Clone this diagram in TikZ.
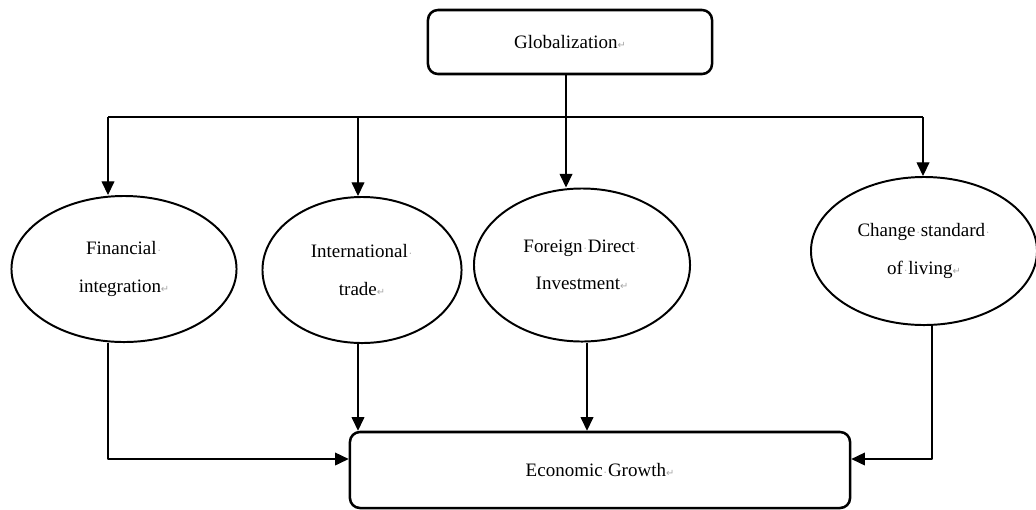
\documentclass[tikz,border=0pt]{standalone}
\usepackage{fontspec}
\setmainfont{Liberation Serif}
\newfontfamily\markfont{DejaVu Sans}
\usetikzlibrary{shapes.geometric,arrows.meta}
\newcommand\dotmark{\makebox[0.28em]{\textcolor{gray!70}{\footnotesize\textperiodcentered}}}
\newcommand\retmark{\textcolor{gray!70}{\markfont\scriptsize ↵}}
\begin{document}
\begin{tikzpicture}[x=0.025cm, y=-0.025cm, >={Triangle[length=0.34cm,width=0.32cm]},
  font=\fontsize{13.5}{26.5}\selectfont, line join=round,
  roundbox/.style={draw, line width=1.8pt, rounded corners=0.25cm, inner sep=0pt},
  oval/.style={draw, ellipse, line width=1.4pt, inner sep=0pt, align=center},
  link/.style={line width=0.75pt}]
 \useasboundingbox (0,0) rectangle (1036,509);
 \node[roundbox, minimum width=7.1cm, minimum height=1.6cm] (glob) at (570,42) {Globalization\retmark};
 \node[oval, minimum width=5.625cm, minimum height=3.65cm] (fin) at (124,269) {Financial\dotmark\\integration\retmark};
 \node[oval, minimum width=4.975cm, minimum height=3.65cm] (trade) at (362,270) {International\dotmark\\trade\retmark};
 \node[oval, minimum width=5.4cm, minimum height=3.825cm] (fdi) at (582,265) {Foreign\dotmark Direct\dotmark\\Investment\retmark};
 \node[oval, minimum width=5.65cm, minimum height=3.7cm] (living) at (924,251) {Change\dotmark standard\dotmark\\of\dotmark living\retmark};
 \node[roundbox, minimum width=12.5cm, minimum height=1.9cm] (growth) at (600,470) {Economic\dotmark Growth\retmark};
 \coordinate (hub) at (566,117);
 \coordinate (t1) at (108,117);
 \coordinate (t2) at (358,117);
 \coordinate (t4) at (923,117);
 \coordinate (b3) at (587,350);
 \coordinate (jl) at (108,459);
 \coordinate (jr) at (932,459);
 \draw[link] (hub |- glob.south) -- (hub);
 \draw[link] (t1) -- (t4);
 \draw[link,->] (t1) -- (t1 |- fin.north);
 \draw[link,->] (t2) -- (t2 |- trade.north);
 \draw[link,->] (hub) -- (hub |- fdi.north);
 \draw[link,->] (t4) -- (t4 |- living.north);
 \draw[link,->] (jl |- fin.south) -- (jl) -- (jl -| growth.west);
 \draw[link,->] (t2 |- trade.south) -- (t2 |- growth.north);
 \draw[link,->] (b3 |- fdi.south) -- (b3 |- growth.north);
 \draw[link,->] (jr |- living.south) -- (jr) -- (jr -| growth.east);
\end{tikzpicture}
\end{document}
